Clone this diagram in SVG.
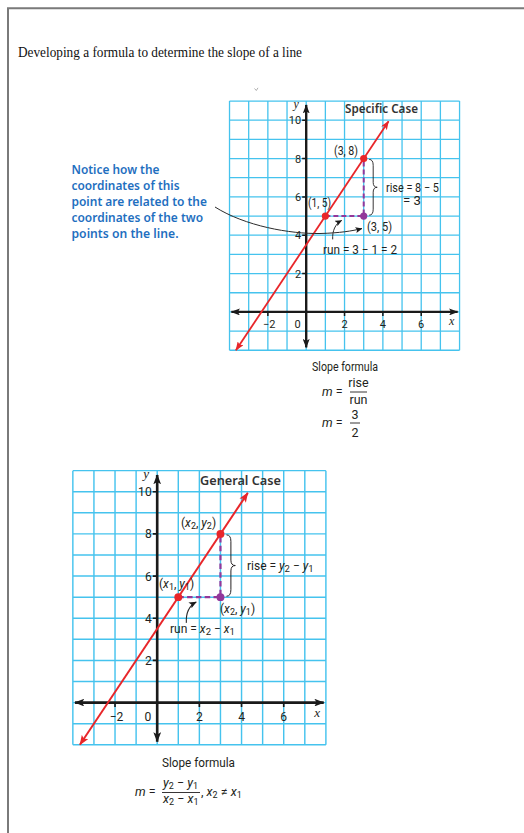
<svg xmlns="http://www.w3.org/2000/svg" xmlns:xlink="http://www.w3.org/1999/xlink" width="524" height="833" viewBox="0 0 524 833">
<style>
.grid{fill:none;stroke:#45c3ee;stroke-width:1.3}
.axis{stroke:#1a1a1a;stroke-width:2.4;fill:none}
.tick{stroke:#1a1a1a;stroke-width:1.5;fill:none}
.num{font-family:Roboto,"Noto Sans",sans-serif;font-size:11px;fill:#231f20}
.var{font-family:"Liberation Serif",serif;font-style:italic;font-size:12px;fill:#231f20}
.red{stroke:#e8262a;stroke-width:1.8;fill:none}
.dash{stroke:#93379a;stroke-width:2;stroke-dasharray:5 3;fill:none}
.brace{stroke:#231f20;stroke-width:0.9;fill:none}
.thin{stroke:#2b2b2b;stroke-width:1;fill:none}
.lbl{font-family:Roboto,"Noto Sans",sans-serif;font-size:12px;fill:#231f20}
.it{font-style:italic}
.head{font-family:"Noto Sans",Roboto,sans-serif;font-weight:600;font-size:12.5px;fill:#333}
.note{font-family:"Noto Sans",Roboto,sans-serif;font-weight:600;font-size:12.5px;fill:#1f6fc0}
.title{font-family:"Liberation Serif",serif;font-size:14.5px;fill:#111}
.frm{font-family:Roboto,"Noto Sans",sans-serif;font-size:12.5px;fill:#231f20}
.bar{stroke:#231f20;stroke-width:0.9}
.border{stroke:#7a7a7a;stroke-width:2;fill:none}
</style>
<defs>
<marker id="ak" viewBox="0 0 9 7" refX="8.5" refY="3.5" markerWidth="9" markerHeight="7" markerUnits="userSpaceOnUse" orient="auto-start-reverse"><path d="M0 0 L9 3.5 L0 7 L2 3.5 z" fill="#1a1a1a"/></marker>
<marker id="ar" viewBox="0 0 9 7" refX="8.5" refY="3.5" markerWidth="9" markerHeight="7" markerUnits="userSpaceOnUse" orient="auto-start-reverse"><path d="M0 0 L9 3.5 L0 7 L2 3.5 z" fill="#e8262a"/></marker>
<marker id="as" viewBox="0 0 7 6" refX="6.5" refY="3" markerWidth="7" markerHeight="6" markerUnits="userSpaceOnUse" orient="auto"><path d="M0 0 L7 3 L0 6 L1.5 3 z" fill="#1a1a1a"/></marker>
<g id="base">
<rect x="-76.68" y="-210.87" width="230.04" height="249.21" fill="#fff"/>
<path class="grid" d="M-76.68 -210.87V38.34M-57.51 -210.87V38.34M-38.34 -210.87V38.34M-19.17 -210.87V38.34M0 -210.87V38.34M19.17 -210.87V38.34M38.34 -210.87V38.34M57.51 -210.87V38.34M76.68 -210.87V38.34M95.85 -210.87V38.34M115.02 -210.87V38.34M134.19 -210.87V38.34M153.36 -210.87V38.34M-76.68 -210.87H153.36M-76.68 -191.7H153.36M-76.68 -172.53H153.36M-76.68 -153.36H153.36M-76.68 -134.19H153.36M-76.68 -115.02H153.36M-76.68 -95.85H153.36M-76.68 -76.68H153.36M-76.68 -57.51H153.36M-76.68 -38.34H153.36M-76.68 -19.17H153.36M-76.68 0H153.36M-76.68 19.17H153.36M-76.68 38.34H153.36"/>
<line class="axis" x1="-74.8" y1="0" x2="151.4" y2="0" marker-start="url(#ak)" marker-end="url(#ak)"/>
<line class="axis" x1="0" y1="35.5" x2="0" y2="-207" marker-start="url(#ak)" marker-end="url(#ak)"/>
<path class="tick" d="M-38.34 0v4M38.34 0v4M76.68 0v4M115.02 0v4M0 -38.34h-4M0 -76.68h-4M0 -115.02h-4M0 -153.36h-4M0 -191.7h-4"/>
<g class="num" text-anchor="end">
<text x="-5" y="-187.7">10</text>
<text x="-5" y="-149.4">8</text>
<text x="-5" y="-111">6</text>
<text x="-5" y="-72.7">4</text>
<text x="-5" y="-34.3">2</text>
</g>
<g class="num" text-anchor="middle">
<text x="-37" y="16.5">−2</text>
<text x="-8.5" y="16.5">0</text>
<text x="38.34" y="16.5">2</text>
<text x="76.68" y="16.5">4</text>
<text x="115.02" y="16.5">6</text>
</g>
<text class="var" x="-10" y="-204" text-anchor="middle">y</text>
<text class="var" x="145.5" y="13" text-anchor="middle">x</text>
<line class="red" x1="-70.3" y1="38.34" x2="82.4" y2="-190.7" marker-start="url(#ar)" marker-end="url(#ar)"/>
<path class="dash" d="M19.17 -95.85H57.51V-153.36"/>
<circle cx="19.17" cy="-95.85" r="3.6" fill="#e8262a"/>
<circle cx="57.51" cy="-153.36" r="3.6" fill="#e8262a"/>
<circle cx="57.51" cy="-95.85" r="3.6" fill="#93379a"/>
<path class="brace" d="M63 -152.5Q67 -152.5 67 -146.5L67 -129.5Q67 -124.6 71 -124.6Q67 -124.6 67 -119.7L67 -102.7Q67 -96.7 63 -96.7"/>
<path class="thin" d="M26.5 -72.5C26 -81 29 -88 35.5 -91.5" marker-end="url(#as)"/>
</g>
</defs>

<g id="frame">
<path class="border" d="M8 833V8.3H524"/>
<text class="title" x="18" y="57" textLength="284" lengthAdjust="spacingAndGlyphs">Developing a formula to determine the slope of a line</text>
<path d="M254.5 88.5L256.3 90.5L258 87.8" stroke="#999" stroke-width="0.8" fill="none"/>
</g>

<g id="note">
<text class="note" x="71.5" y="174" textLength="88" lengthAdjust="spacingAndGlyphs">Notice how the</text>
<text class="note" x="71.5" y="190" textLength="108" lengthAdjust="spacingAndGlyphs">coordinates of this</text>
<text class="note" x="71.5" y="206" textLength="135.5" lengthAdjust="spacingAndGlyphs">point are related to the</text>
<text class="note" x="71.5" y="222" textLength="131.5" lengthAdjust="spacingAndGlyphs">coordinates of the two</text>
<text class="note" x="71.5" y="238" textLength="107" lengthAdjust="spacingAndGlyphs">points on the line.</text>
</g>

<g id="specific-graph">
<use xlink:href="#base" href="#base" transform="translate(306.2 311.9)"/>
<text class="head" x="345" y="113" textLength="73" lengthAdjust="spacingAndGlyphs">Specific Case</text>
<text class="lbl" x="334" y="155" textLength="24" lengthAdjust="spacingAndGlyphs">(3, 8)</text>
<text class="lbl" x="308" y="207" textLength="23" lengthAdjust="spacingAndGlyphs">(1, 5)</text>
<text class="lbl" x="386" y="192" textLength="53" lengthAdjust="spacingAndGlyphs">rise = 8 − 5</text>
<text class="lbl" x="403" y="205" textLength="18" lengthAdjust="spacingAndGlyphs">= 3</text>
<text class="lbl" x="367" y="231" textLength="25" lengthAdjust="spacingAndGlyphs">(3, 5)</text>
<text class="lbl" x="323" y="254" textLength="74" lengthAdjust="spacingAndGlyphs">run = 3 − 1 = 2</text>
</g>

<g id="connectors">
<path class="thin" d="M215 207C245 226 290 234 320 233.5C340 233 352 231 362 228.5" marker-end="url(#as)"/>
</g>

<g id="specific-formula">
<text class="frm" x="312" y="371" textLength="66" lengthAdjust="spacingAndGlyphs">Slope formula</text>
<text class="frm" x="322" y="396"><tspan class="it">m</tspan> =</text>
<text class="frm" x="358.5" y="387" text-anchor="middle">rise</text>
<line class="bar" x1="350" y1="392" x2="367" y2="392"/>
<text class="frm" x="358.5" y="404" text-anchor="middle">run</text>
<text class="frm" x="322" y="427"><tspan class="it">m</tspan> =</text>
<text class="frm" x="355" y="419" text-anchor="middle">3</text>
<line class="bar" x1="350" y1="423" x2="360" y2="423"/>
<text class="frm" x="355" y="437" text-anchor="middle">2</text>
</g>

<g id="general-graph">
<use xlink:href="#base" href="#base" transform="translate(157.2 702.6) scale(1.1)"/>
<text class="head" x="200" y="485" font-size="13.5" textLength="81" lengthAdjust="spacingAndGlyphs">General Case</text>
<text class="lbl" x="181" y="527" font-size="13">(<tspan class="it">x</tspan><tspan font-size="9" dy="2">2</tspan><tspan dy="-2">, </tspan><tspan class="it">y</tspan><tspan font-size="9" dy="2">2</tspan><tspan dy="-2">)</tspan></text>
<text class="lbl" x="159" y="588" font-size="13">(<tspan class="it">x</tspan><tspan font-size="9" dy="2">1</tspan><tspan dy="-2">, </tspan><tspan class="it">y</tspan><tspan font-size="9" dy="2">1</tspan><tspan dy="-2">)</tspan></text>
<text class="lbl" x="247" y="570" font-size="13.5">rise = <tspan class="it">y</tspan><tspan font-size="9.5" dy="2">2</tspan><tspan dy="-2"> − </tspan><tspan class="it">y</tspan><tspan font-size="9.5" dy="2">1</tspan></text>
<text class="lbl" x="220" y="613" font-size="13">(<tspan class="it">x</tspan><tspan font-size="9" dy="2">2</tspan><tspan dy="-2">, </tspan><tspan class="it">y</tspan><tspan font-size="9" dy="2">1</tspan><tspan dy="-2">)</tspan></text>
<text class="lbl" x="170" y="633" font-size="13.5">run = <tspan class="it">x</tspan><tspan font-size="9.5" dy="2">2</tspan><tspan dy="-2"> − </tspan><tspan class="it">x</tspan><tspan font-size="9.5" dy="2">1</tspan></text>
</g>

<g id="general-formula">
<text class="frm" x="162" y="767" font-size="13" textLength="73" lengthAdjust="spacingAndGlyphs">Slope formula</text>
<text class="frm" x="135" y="796" font-size="13"><tspan class="it">m</tspan> =</text>
<text class="frm" x="163" y="787" font-size="13"><tspan class="it">y</tspan><tspan font-size="9" dy="2">2</tspan><tspan dy="-2"> − </tspan><tspan class="it">y</tspan><tspan font-size="9" dy="2">1</tspan></text>
<line class="bar" x1="162" y1="792.5" x2="200" y2="792.5"/>
<text class="frm" x="163" y="803" font-size="13"><tspan class="it">x</tspan><tspan font-size="9" dy="2">2</tspan><tspan dy="-2"> − </tspan><tspan class="it">x</tspan><tspan font-size="9" dy="2">1</tspan></text>
<text class="frm" x="201" y="796" font-size="13">, <tspan class="it">x</tspan><tspan font-size="9" dy="2">2</tspan><tspan dy="-2"> ≠ </tspan><tspan class="it">x</tspan><tspan font-size="9" dy="2">1</tspan></text>
</g>
</svg>
